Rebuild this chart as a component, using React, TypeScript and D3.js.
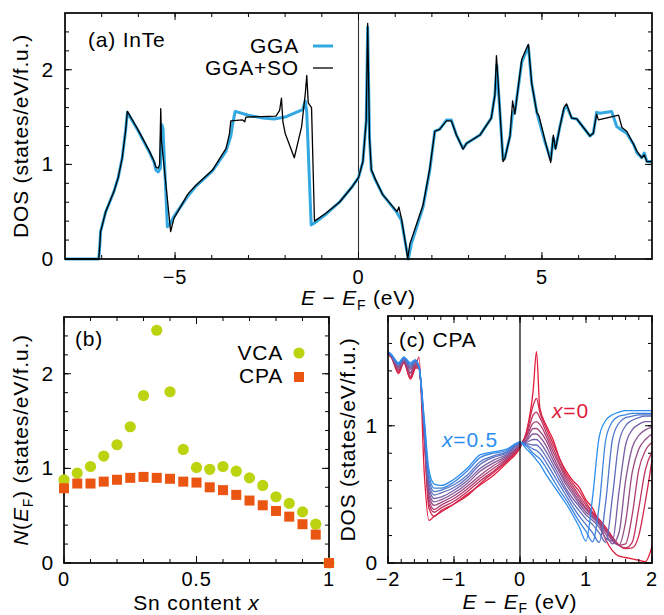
import React from 'react';
import * as d3 from 'd3';

const FONT = "'Liberation Sans', Arial, Helvetica, sans-serif";

// (a) InTe total DOS, energy (eV) vs states/eV/f.u.
const ggaDos: [number, number][] = [
  [-8, 0], [-7.08, 0], [-7.05, 0.15], [-7.03, 0.29], [-6.89, 0.5], [-6.67, 0.71], [-6.55, 0.86],
  [-6.44, 1.07], [-6.35, 1.35], [-6.3, 1.55], [-6.0, 1.35], [-5.7, 1.13], [-5.57, 1.02], [-5.52, 0.94],
  [-5.46, 0.92], [-5.4, 0.96], [-5.36, 1.42], [-5.33, 1.38], [-5.21, 0.34], [-5.15, 0.36], [-5.03, 0.45],
  [-4.66, 0.66], [-4.43, 0.77], [-3.98, 0.93], [-3.61, 1.14], [-3.48, 1.3], [-3.42, 1.45], [-3.36, 1.56],
  [-3.0, 1.52], [-2.61, 1.49], [-2.3, 1.48], [-2.0, 1.5], [-1.7, 1.55], [-1.52, 1.58], [-1.45, 1.67],
  [-1.41, 1.55], [-1.29, 0.36], [-1.2, 0.38], [-0.9, 0.47], [-0.52, 0.6], [-0.2, 0.75], [0.0, 0.86],
  [0.12, 1.03], [0.21, 1.46], [0.25, 2.45], [0.3, 1.28], [0.35, 0.94], [0.44, 0.85], [0.66, 0.68],
  [1.05, 0.49], [1.17, 0.41], [1.3, 0.12], [1.36, 0.0], [1.44, 0.16], [1.76, 0.55], [1.94, 0.93],
  [2.08, 1.35], [2.21, 1.37], [2.4, 1.47], [2.53, 1.47], [2.67, 1.31], [2.85, 1.17], [2.94, 1.22],
  [3.31, 1.31], [3.62, 1.49], [3.72, 1.74], [3.77, 2.05], [3.94, 1.05], [3.99, 1.07], [4.13, 1.3],
  [4.2, 1.55], [4.26, 1.55], [4.45, 2.08], [4.63, 2.25], [4.72, 1.86], [4.86, 1.55], [5.08, 1.24],
  [5.24, 1.05], [5.31, 1.28], [5.37, 1.17], [5.49, 1.4], [5.6, 1.58], [5.67, 1.62], [5.81, 1.49],
  [5.95, 1.48], [6.31, 1.3], [6.4, 1.33], [6.49, 1.55], [6.58, 1.54], [6.9, 1.56], [7.04, 1.4],
  [7.18, 1.36], [7.31, 1.33], [7.5, 1.21], [7.59, 1.12], [7.72, 1.07], [7.79, 1.12], [7.86, 1.03], [8.0, 1.03],
];

const soDos: [number, number][] = [
  [-8, 0], [-7.08, 0], [-7.05, 0.15], [-7.03, 0.29], [-6.89, 0.5], [-6.67, 0.71], [-6.55, 0.86],
  [-6.44, 1.07], [-6.35, 1.35], [-6.3, 1.56], [-6.0, 1.36], [-5.7, 1.14], [-5.58, 1.04], [-5.52, 0.97],
  [-5.46, 0.96], [-5.42, 1.0], [-5.39, 1.59], [-5.37, 1.25], [-5.12, 0.29], [-5.03, 0.43], [-4.66, 0.68],
  [-4.6, 0.71], [-4.43, 0.78], [-3.98, 0.94], [-3.61, 1.17], [-3.52, 1.32], [-3.48, 1.46], [-3.16, 1.47],
  [-3.1, 1.45], [-3.07, 1.5], [-2.25, 1.51], [-2.15, 1.57], [-2.1, 1.7], [-2.06, 1.45], [-2.0, 1.33],
  [-1.75, 1.07], [-1.55, 1.4], [-1.45, 1.75], [-1.41, 1.94], [-1.37, 1.65], [-1.28, 1.6], [-1.2, 0.4],
  [-0.9, 0.48], [-0.52, 0.6], [-0.2, 0.75], [0.0, 0.86], [0.12, 1.03], [0.21, 1.46], [0.25, 2.49],
  [0.3, 1.28], [0.35, 0.94], [0.4, 0.9], [0.44, 0.86], [0.66, 0.68], [1.05, 0.5], [1.1, 0.55],
  [1.17, 0.43], [1.3, 0.12], [1.34, 0.0], [1.4, 0.16], [1.76, 0.57], [1.94, 0.95], [2.08, 1.35],
  [2.21, 1.37], [2.4, 1.46], [2.53, 1.46], [2.67, 1.31], [2.85, 1.16], [2.94, 1.22], [3.31, 1.31],
  [3.62, 1.49], [3.72, 1.74], [3.76, 2.15], [3.94, 1.03], [3.99, 1.06], [4.13, 1.3], [4.2, 1.67],
  [4.26, 1.53], [4.45, 2.11], [4.63, 2.27], [4.72, 1.86], [4.86, 1.55], [4.92, 1.51], [5.08, 1.26],
  [5.24, 1.02], [5.31, 1.31], [5.37, 1.16], [5.49, 1.4], [5.6, 1.6], [5.67, 1.64], [5.81, 1.49],
  [5.95, 1.48], [6.31, 1.3], [6.4, 1.33], [6.49, 1.53], [6.54, 1.47], [7.09, 1.52], [7.18, 1.39],
  [7.31, 1.35], [7.5, 1.21], [7.59, 1.14], [7.72, 1.07], [7.79, 1.1], [7.86, 1.03], [8.0, 1.03],
];

// (b) N(E_F) vs Sn content
const snContent = [0, 0.05, 0.1, 0.15, 0.2, 0.25, 0.3, 0.35, 0.4, 0.45, 0.5, 0.55, 0.6, 0.65, 0.7, 0.75, 0.8, 0.85, 0.9, 0.95, 1];
const vcaNEF = [0.88, 0.95, 1.02, 1.13, 1.25, 1.44, 1.77, 2.46, 1.81, 1.2, 1.01, 0.99, 1.02, 0.97, 0.9, 0.82, 0.7, 0.63, 0.54, 0.41, 0.0];
const cpaNEF = [0.79, 0.84, 0.84, 0.86, 0.88, 0.9, 0.91, 0.9, 0.89, 0.86, 0.85, 0.8, 0.77, 0.72, 0.66, 0.61, 0.55, 0.49, 0.41, 0.3, 0.0];

// (c) CPA DOS for x = 0 ... 0.5 on a shared energy grid
const cpaEnergy = [
  -2.0, -1.95, -1.84, -1.76, -1.66, -1.59, -1.53, -1.45, -1.38, -1.3, -1.2, -1.0, -0.8, -0.6, -0.4, -0.2,
  0.0, 0.1, 0.2, 0.25, 0.3, 0.4, 0.5, 0.6, 0.7, 0.8, 0.9, 1.0, 1.1, 1.2, 1.3, 1.4, 1.5, 1.6, 1.7, 1.8, 1.9, 2.0,
];
const dosX000 = [1.52, 1.5, 1.38, 1.46, 1.34, 1.42, 1.5, 0.65, 0.31, 0.34, 0.37, 0.43, 0.5, 0.57, 0.64, 0.73,
  0.84, 0.96, 1.26, 1.54, 1.13, 1.0, 0.9, 0.76, 0.67, 0.6, 0.55, 0.46, 0.4, 0.29, 0.17, 0.09, 0.05, 0.04, 0.03, 0.02, 0.01, 0.12];
const dosX005 = [1.52, 1.5, 1.39, 1.46, 1.35, 1.42, 1.42, 0.9, 0.4, 0.34, 0.38, 0.43, 0.49, 0.58, 0.66, 0.74,
  0.85, 0.95, 1.15, 1.2, 1.1, 0.98, 0.87, 0.76, 0.65, 0.58, 0.52, 0.44, 0.37, 0.32, 0.26, 0.19, 0.13, 0.105, 0.11, 0.2, 0.45, 0.75];
const dosX010 = [1.52, 1.5, 1.4, 1.46, 1.36, 1.43, 1.42, 0.92, 0.43, 0.37, 0.4, 0.45, 0.52, 0.6, 0.67, 0.75,
  0.85, 0.93, 1.08, 1.1, 1.06, 0.95, 0.84, 0.73, 0.63, 0.56, 0.49, 0.42, 0.36, 0.31, 0.25, 0.18, 0.13, 0.11, 0.15, 0.4, 0.68, 0.81];
const dosX015 = [1.53, 1.5, 1.41, 1.47, 1.38, 1.44, 1.42, 0.93, 0.46, 0.39, 0.42, 0.47, 0.54, 0.62, 0.69, 0.76,
  0.86, 0.92, 1.02, 1.03, 1.01, 0.92, 0.81, 0.71, 0.61, 0.54, 0.47, 0.4, 0.35, 0.3, 0.24, 0.17, 0.13, 0.14, 0.35, 0.68, 0.82, 0.88];
const dosX020 = [1.53, 1.51, 1.42, 1.47, 1.39, 1.45, 1.42, 0.94, 0.49, 0.42, 0.44, 0.49, 0.56, 0.64, 0.71, 0.77,
  0.86, 0.9, 0.98, 0.98, 0.96, 0.89, 0.78, 0.68, 0.59, 0.52, 0.45, 0.39, 0.34, 0.29, 0.23, 0.16, 0.13, 0.3, 0.66, 0.83, 0.9, 0.94];
const dosX025 = [1.53, 1.51, 1.43, 1.48, 1.41, 1.46, 1.42, 0.95, 0.52, 0.445, 0.46, 0.51, 0.58, 0.67, 0.73, 0.78,
  0.86, 0.89, 0.94, 0.94, 0.92, 0.85, 0.75, 0.66, 0.57, 0.5, 0.43, 0.37, 0.33, 0.28, 0.21, 0.14, 0.22, 0.6, 0.84, 0.93, 0.97, 0.99];
const dosX030 = [1.53, 1.51, 1.44, 1.48, 1.42, 1.46, 1.43, 0.96, 0.55, 0.47, 0.48, 0.53, 0.6, 0.69, 0.75, 0.79,
  0.87, 0.88, 0.9, 0.9, 0.88, 0.81, 0.72, 0.63, 0.54, 0.47, 0.41, 0.35, 0.31, 0.26, 0.18, 0.16, 0.52, 0.86, 0.97, 1.01, 1.03, 1.03];
const dosX035 = [1.54, 1.51, 1.44, 1.49, 1.43, 1.47, 1.43, 0.98, 0.58, 0.495, 0.51, 0.55, 0.62, 0.72, 0.77, 0.8,
  0.87, 0.87, 0.86, 0.86, 0.84, 0.77, 0.69, 0.6, 0.52, 0.44, 0.38, 0.32, 0.28, 0.22, 0.15, 0.48, 0.88, 1.0, 1.04, 1.06, 1.07, 1.07];
const dosX040 = [1.54, 1.52, 1.45, 1.49, 1.44, 1.47, 1.43, 1.0, 0.61, 0.52, 0.53, 0.57, 0.64, 0.74, 0.78, 0.81,
  0.88, 0.86, 0.83, 0.82, 0.8, 0.73, 0.65, 0.57, 0.49, 0.41, 0.34, 0.28, 0.22, 0.15, 0.45, 0.9, 1.02, 1.06, 1.07, 1.08, 1.08, 1.08];
const dosX045 = [1.54, 1.52, 1.45, 1.5, 1.45, 1.48, 1.43, 1.02, 0.64, 0.545, 0.545, 0.59, 0.67, 0.77, 0.8, 0.82,
  0.88, 0.85, 0.8, 0.78, 0.76, 0.69, 0.61, 0.53, 0.46, 0.38, 0.3, 0.23, 0.155, 0.42, 0.9, 1.03, 1.07, 1.08, 1.09, 1.09, 1.09, 1.09];
const dosX050 = [1.54, 1.52, 1.46, 1.5, 1.46, 1.48, 1.43, 1.05, 0.68, 0.575, 0.565, 0.61, 0.69, 0.79, 0.81, 0.83,
  0.88, 0.83, 0.78, 0.75, 0.72, 0.64, 0.57, 0.5, 0.43, 0.35, 0.26, 0.16, 0.48, 0.92, 1.04, 1.08, 1.1, 1.11, 1.11, 1.11, 1.11, 1.11];
const cpaCurves = [dosX000, dosX005, dosX010, dosX015, dosX020, dosX025, dosX030, dosX035, dosX040, dosX045, dosX050];

const dosTicks = ['0', '1', '2'];
const energyTicksA = ['−5', '0', '5'];
const snTicks = ['0', '0.5', '1'];
const energyTicksC = ['−2', '−1', '0', '1', '2'];

type Scale = d3.ScaleLinear<number, number>;

function Frame({ x, y, xMajor, xMinor, yMajor, yMinor }: {
  x: Scale; y: Scale; xMajor: number[]; xMinor: number[]; yMajor: number[]; yMinor: number[];
}) {
  const [left, right] = x.range();
  const [bottom, top] = y.range();
  const segs: number[][] = [];
  const addX = (vals: number[], len: number) => vals.forEach(v => {
    const px = x(v);
    segs.push([px, bottom, px, bottom - len], [px, top, px, top + len]);
  });
  const addY = (vals: number[], len: number) => vals.forEach(v => {
    const py = y(v);
    segs.push([left, py, left + len, py], [right, py, right - len, py]);
  });
  addX(xMinor, 4); addX(xMajor, 7);
  addY(yMinor, 4); addY(yMajor, 7);
  return (
    <g stroke="#000">
      {segs.map((s, i) => <line key={i} x1={s[0]} y1={s[1]} x2={s[2]} y2={s[3]} strokeWidth={1} />)}
      <rect x={left} y={top} width={right - left} height={bottom - top} fill="none" strokeWidth={1.7} />
    </g>
  );
}

export default function App() {
  // panel (a)
  const xa = d3.scaleLinear().domain([-8, 8]).range([65, 652]);
  const ya = d3.scaleLinear().domain([0, 2.6]).range([259, 13]);
  const lineA = d3.line<[number, number]>().x(d => xa(d[0])).y(d => ya(d[1]));

  // panel (b)
  const xb = d3.scaleLinear().domain([0, 1]).range([64, 329]);
  const yb = d3.scaleLinear().domain([0, 2.6]).range([563, 317]);

  // panel (c)
  const xc = d3.scaleLinear().domain([-2, 2]).range([388, 652]);
  const yc = d3.scaleLinear().domain([0, 1.8]).range([563, 316]);
  const lineC = d3.line<number>().x((_, i) => xc(cpaEnergy[i])).y(d => yc(d)).curve(d3.curveMonotoneX);
  const colorC = d3.interpolateRgb('#e31b3b', '#2b8ef0');

  const fs = 21;
  const sub = 14;
  const tickFs = 20;

  return (
    <svg width={664} height={615} style={{ position: 'absolute', left: 0, top: 0, background: '#fff' }}
      fontFamily={FONT} fontSize={fs} letterSpacing={0.8}>
      <rect width={664} height={615} fill="#fff" />

      {/* (a) */}
      <line x1={xa(0)} x2={xa(0)} y1={ya(0)} y2={ya(2.6)} stroke="#333" strokeWidth={1.1} />
      <path d={lineA(ggaDos) ?? ''} fill="none" stroke="#33a8e0" strokeWidth={3} strokeLinejoin="round" />
      <path d={lineA(soDos) ?? ''} fill="none" stroke="#000" strokeWidth={1.3} strokeLinejoin="round" />
      <Frame x={xa} y={ya} xMajor={[-5, 0, 5]} xMinor={d3.range(-7, 8, 1)} yMajor={[0, 1, 2]} yMinor={d3.range(0.2, 2.6, 0.2)} />
      {dosTicks.map((t, i) => (
        <text key={t} x={54} y={ya(i) + 7} textAnchor="end">{t}</text>
      ))}
      {energyTicksA.map((t, i) => (
        <text key={t} x={xa([-5, 0, 5][i])} y={284} textAnchor="middle" fontSize={tickFs}>{t}</text>
      ))}
      <text x={xa(0)} y={305} textAnchor="middle">
        <tspan fontStyle="italic">E</tspan>{' − '}<tspan fontStyle="italic">E</tspan>
        <tspan fontSize={sub} dy={5}>F</tspan><tspan dy={-5}> (eV)</tspan>
      </text>
      <text transform={`translate(28,${(13 + 259) / 2}) rotate(-90)`} textAnchor="middle">DOS (states/eV/f.u.)</text>
      <text x={88} y={47}>(a) InTe</text>
      <text x={299} y={53} textAnchor="end">GGA</text>
      <line x1={313} x2={333} y1={46} y2={46} stroke="#33a8e0" strokeWidth={3} />
      <text x={299} y={75} textAnchor="end">GGA+SO</text>
      <line x1={313} x2={333} y1={68} y2={68} stroke="#000" strokeWidth={1.3} />

      {/* (b) */}
      <Frame x={xb} y={yb} xMajor={[0, 0.5, 1]} xMinor={d3.range(0.1, 1, 0.1)} yMajor={[0, 1, 2]} yMinor={d3.range(0.2, 2.6, 0.2)} />
      {snContent.map((s, i) => (
        <circle key={'v' + i} cx={xb(s)} cy={yb(vcaNEF[i])} r={5.6} fill="#bcd30f" />
      ))}
      {snContent.map((s, i) => (
        <rect key={'c' + i} x={xb(s) - 5} y={yb(cpaNEF[i]) - 5} width={10} height={10} fill="#ea5512" />
      ))}
      {dosTicks.map((t, i) => (
        <text key={t} x={54} y={yb(i) + 7} textAnchor="end">{t}</text>
      ))}
      {snTicks.map((t, i) => (
        <text key={t} x={xb([0, 0.5, 1][i])} y={586} textAnchor="middle" fontSize={tickFs}>{t}</text>
      ))}
      <text x={(64 + 329) / 2} y={610} textAnchor="middle">Sn content <tspan fontStyle="italic">x</tspan></text>
      <text transform={`translate(28,${(317 + 563) / 2}) rotate(-90)`} textAnchor="middle">
        <tspan fontStyle="italic">N</tspan>(<tspan fontStyle="italic">E</tspan>
        <tspan fontSize={sub} dy={5}>F</tspan><tspan dy={-5}>) (states/eV/f.u.)</tspan>
      </text>
      <text x={75} y={346}>(b)</text>
      <text x={283} y={360} textAnchor="end">VCA</text>
      <circle cx={299} cy={353} r={5.6} fill="#bcd30f" />
      <text x={283} y={383} textAnchor="end">CPA</text>
      <rect x={294} y={372} width={10} height={10} fill="#ea5512" />

      {/* (c) */}
      {cpaCurves.map((c, k) => (
        <path key={k} d={lineC(c) ?? ''} fill="none" stroke={colorC(k / 10)} strokeWidth={1.3} />
      ))}
      <line x1={xc(0)} x2={xc(0)} y1={yc(0)} y2={yc(1.8)} stroke="#000" strokeWidth={1.2} />
      <Frame x={xc} y={yc} xMajor={[-2, -1, 0, 1, 2]} xMinor={d3.range(-1.8, 2, 0.2)} yMajor={[0, 1]} yMinor={d3.range(0.2, 1.8, 0.2)} />
      {['0', '1'].map((t, i) => (
        <text key={t} x={378} y={yc(i) + 7} textAnchor="end">{t}</text>
      ))}
      {energyTicksC.map((t, i) => (
        <text key={t} x={xc(i - 2)} y={586} textAnchor="middle" fontSize={tickFs}>{t}</text>
      ))}
      <text x={xc(0)} y={609} textAnchor="middle">
        <tspan fontStyle="italic">E</tspan>{' − '}<tspan fontStyle="italic">E</tspan>
        <tspan fontSize={sub} dy={4}>F</tspan><tspan dy={-4}> (eV)</tspan>
      </text>
      <text transform={`translate(355,${(316 + 563) / 2}) rotate(-90)`} textAnchor="middle">DOS (states/eV/f.u.)</text>
      <text x={399} y={347}>(c) CPA</text>
      <text x={442} y={447} fill={colorC(1)}><tspan fontStyle="italic">x</tspan>=0.5</text>
      <text x={552} y={418} fill={colorC(0)}><tspan fontStyle="italic">x</tspan>=0</text>
    </svg>
  );
}
